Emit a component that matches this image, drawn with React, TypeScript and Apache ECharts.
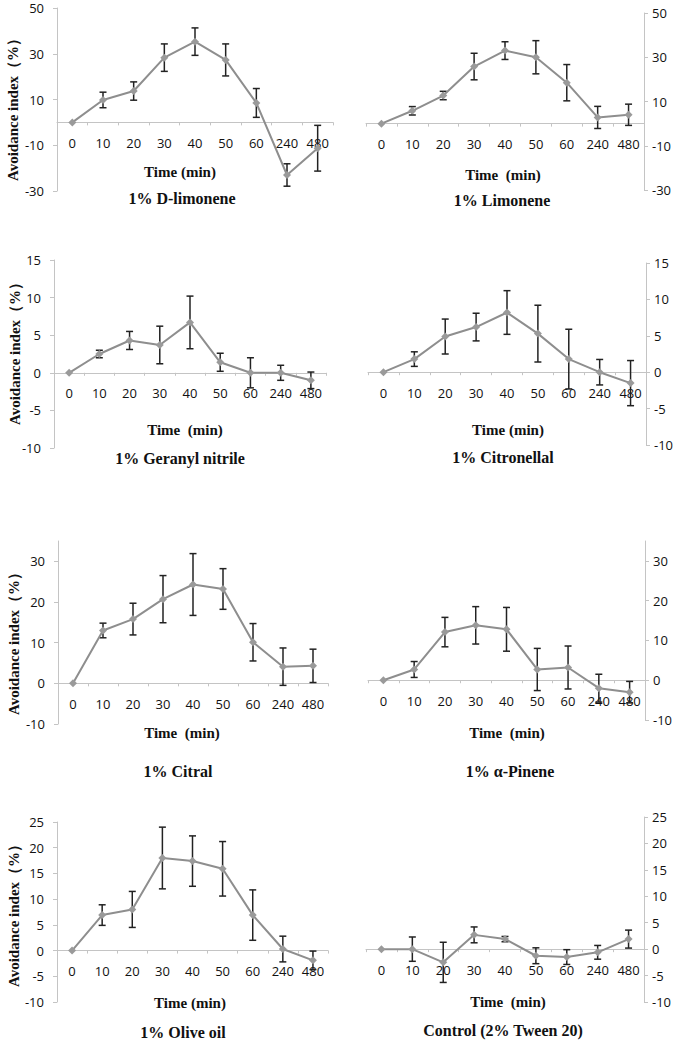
import React, { useEffect, useRef } from 'react';
import * as echarts from 'echarts';

const categories = ['0', '10', '20', '30', '40', '50', '60', '240', '480'];

const dLimoneneMean = [0, 9.8, 13.7, 28.3, 35.3, 27.3, 8.5, -23, -11.3];
const dLimoneneErr = [0, 3.4, 4, 6, 6, 7, 6.3, 4.9, 10];

const limoneneMean = [0, 5.8, 12.7, 25.8, 33, 30, 18.5, 2.8, 4];
const limoneneErr = [0, 1.9, 1.9, 6, 4, 7.5, 8.2, 5, 4.8];

const geranylMean = [0, 2.5, 4.3, 3.7, 6.7, 1.4, 0, 0, -1];
const geranylErr = [0, 0.5, 1.2, 2.5, 3.5, 1.2, 2, 1, 1.1];

const citronellalMean = [0, 1.8, 4.9, 6.2, 8.2, 5.3, 1.8, 0, -1.5];
const citronellalErr = [0, 1, 2.4, 1.9, 3, 3.9, 4.1, 1.75, 3.1];

const citralMean = [0, 13, 15.8, 20.7, 24.3, 23.2, 10.1, 4.1, 4.3];
const citralErr = [0, 1.8, 3.9, 5.8, 7.6, 5, 4.6, 4.6, 4.1];

const pineneMean = [0, 2.7, 12.1, 13.8, 12.8, 2.7, 3.2, -2, -3];
const pineneErr = [0, 2, 3.7, 4.7, 5.5, 5.3, 5.4, 3.5, 2.7];

const oliveMean = [0, 6.9, 8, 18, 17.4, 15.9, 6.9, 0.3, -1.9];
const oliveErr = [0, 2, 3.5, 6, 4.9, 5.3, 4.9, 2.5, 1.8];

const controlMean = [0, 0, -2.5, 2.7, 1.9, -1.25, -1.5, -0.6, 1.9];
const controlErr = [0, 2.3, 3.8, 1.5, 0.5, 1.5, 1.4, 1.3, 1.7];

const ticksA = [-30, -10, 10, 30, 50];
const ticksB = [-10, -5, 0, 5, 10, 15];
const ticksC = [-10, 0, 10, 20, 30];
const ticksD = [-10, -5, 0, 5, 10, 15, 20, 25];

const titles = [
  '1% D-limonene',
  '1% Limonene',
  '1% Geranyl nitrile',
  '1% Citronellal',
  '1% Citral',
  '1% α-Pinene',
  '1% Olive oil',
  'Control (2% Tween 20)',
];
const xNames = ['Time (min)', 'Time  (min)', 'Time  (min)', 'Time (min)', 'Time  (min)', 'Time  (min)', 'Time (min)', 'Time  (min)'];
const yName = 'Avoidance index（%）';

const panels = [
  { mean: dLimoneneMean, err: dLimoneneErr, ticks: ticksA, yMin: -30, yMax: 50, step: 20, side: 'left', grid: { left: 57, top: 8, width: 276, height: 183 }, xn: [180, 172], tt: [182, 198], yn: [13, 106] },
  { mean: limoneneMean, err: limoneneErr, ticks: ticksA, yMin: -30, yMax: 50, step: 20, side: 'right', grid: { left: 366, top: 13, width: 278, height: 177 }, xn: [503, 175], tt: [502, 200] },
  { mean: geranylMean, err: geranylErr, ticks: ticksB, yMin: -10, yMax: 15, step: 5, side: 'left', grid: { left: 54, top: 260, width: 272, height: 188 }, xn: [185, 430], tt: [180, 458], yn: [15, 350] },
  { mean: citronellalMean, err: citronellalErr, ticks: ticksB, yMin: -10, yMax: 15, step: 5, side: 'right', grid: { left: 368, top: 263, width: 278, height: 182 }, xn: [508, 430], tt: [503, 457] },
  { mean: citralMean, err: citralErr, ticks: ticksC, yMin: -10, yMax: 35, step: 10, side: 'left', grid: { left: 58, top: 541, width: 270, height: 183 }, xn: [182, 733], tt: [178, 771], yn: [14, 640] },
  { mean: pineneMean, err: pineneErr, ticks: ticksC, yMin: -10, yMax: 35, step: 10, side: 'right', grid: { left: 368, top: 541, width: 277, height: 179 }, xn: [507, 733], tt: [510, 771] },
  { mean: oliveMean, err: oliveErr, ticks: ticksD, yMin: -10, yMax: 25, step: 5, side: 'left', grid: { left: 57, top: 822, width: 271, height: 180 }, xn: [190, 1003], tt: [183, 1032], yn: [14, 912] },
  { mean: controlMean, err: controlErr, ticks: ticksD, yMin: -10, yMax: 25, step: 5, side: 'right', grid: { left: 366, top: 817, width: 278, height: 185 }, xn: [508, 1002], tt: [503, 1030] },
];

const AXIS_COLOR = '#c4c4c4';
const TEXT_COLOR = '#111111';
const SANS = '"Open Sans", "Noto Sans", sans-serif';
const SERIF = '"Liberation Serif", "DejaVu Serif", serif';

function buildOption() {
  const grids: any[] = [];
  const xAxes: any[] = [];
  const yAxes: any[] = [];
  const series: any[] = [];
  const graphics: any[] = [];

  panels.forEach((p, i) => {
    grids.push({ ...p.grid, containLabel: false });
    // place the category axis on the zero line of the value axis
    const zeroOffset = -(p.grid.height * (0 - p.yMin)) / (p.yMax - p.yMin);
    xAxes.push({
      type: 'category',
      gridIndex: i,
      position: 'bottom',
      offset: zeroOffset,
      data: categories,
      boundaryGap: true,
      axisLine: { onZero: false, lineStyle: { color: AXIS_COLOR, width: 1 } },
      axisTick: { show: true, length: 3, lineStyle: { color: AXIS_COLOR } },
      axisLabel: { color: TEXT_COLOR, fontFamily: SANS, fontSize: 13, margin: 14, interval: 0 },
      splitLine: { show: false },
    });
    yAxes.push({
      type: 'value',
      gridIndex: i,
      position: p.side,
      min: p.yMin,
      max: p.yMax,
      interval: p.step,
      axisLine: { show: true, onZero: false, lineStyle: { color: AXIS_COLOR, width: 1 } },
      axisTick: { show: true, length: 4, lineStyle: { color: AXIS_COLOR }, customValues: p.ticks },
      axisLabel: {
        color: TEXT_COLOR,
        fontFamily: SANS,
        fontSize: 13,
        margin: p.side === 'left' ? 13 : 8,
        customValues: p.ticks,
        formatter: (v: number) => (p.ticks.indexOf(v) >= 0 ? String(v) : ''),
      },
      splitLine: { show: false },
    });
    const errData = p.mean
      .map((m, k) => (p.err[k] > 0 ? [k, m - p.err[k], m + p.err[k]] : null))
      .filter((d) => d !== null);
    series.push({
      type: 'custom',
      xAxisIndex: i,
      yAxisIndex: i,
      z: 2,
      encode: { x: 0, y: [1, 2] },
      data: errData,
      renderItem: (params: any, api: any) => {
        const x = api.value(0);
        const top = api.coord([x, api.value(2)]);
        const bot = api.coord([x, api.value(1)]);
        const w = 3.5;
        const style = { stroke: '#222222', lineWidth: 1.5 };
        return {
          type: 'group',
          children: [
            { type: 'line', shape: { x1: top[0], y1: top[1], x2: bot[0], y2: bot[1] }, style },
            { type: 'line', shape: { x1: top[0] - w, y1: top[1], x2: top[0] + w, y2: top[1] }, style },
            { type: 'line', shape: { x1: bot[0] - w, y1: bot[1], x2: bot[0] + w, y2: bot[1] }, style },
          ],
        };
      },
    });
    series.push({
      type: 'line',
      xAxisIndex: i,
      yAxisIndex: i,
      z: 3,
      data: p.mean,
      symbol: 'diamond',
      symbolSize: 8,
      lineStyle: { color: '#8e8e8e', width: 2 },
      itemStyle: { color: '#9a9a9a' },
    });

    graphics.push({
      type: 'text',
      x: p.xn[0],
      y: p.xn[1],
      style: { text: xNames[i], fill: TEXT_COLOR, font: `bold 15px ${SERIF}`, align: 'center', verticalAlign: 'middle' },
    });
    graphics.push({
      type: 'text',
      x: p.tt[0],
      y: p.tt[1],
      style: { text: titles[i], fill: TEXT_COLOR, font: `bold 16px ${SERIF}`, align: 'center', verticalAlign: 'middle' },
    });
    if (p.yn) {
      graphics.push({
        type: 'text',
        x: p.yn[0],
        y: p.yn[1],
        rotation: Math.PI / 2,
        style: { text: yName, fill: TEXT_COLOR, font: `bold 15px ${SERIF}`, align: 'center', verticalAlign: 'middle' },
      });
    }
  });

  return {
    animation: false,
    backgroundColor: '#ffffff',
    grid: grids,
    xAxis: xAxes,
    yAxis: yAxes,
    series,
    graphic: graphics,
  };
}

export default function App() {
  const ref = useRef<HTMLDivElement>(null);
  useEffect(() => {
    if (!ref.current) return;
    const chart = echarts.init(ref.current, undefined, { renderer: 'svg' });
    chart.setOption(buildOption());
    return () => chart.dispose();
  }, []);
  return (
    <div
      ref={ref}
      style={{ position: 'absolute', left: 0, top: 0, width: 685, height: 1042, background: '#fff' }}
    />
  );
}
